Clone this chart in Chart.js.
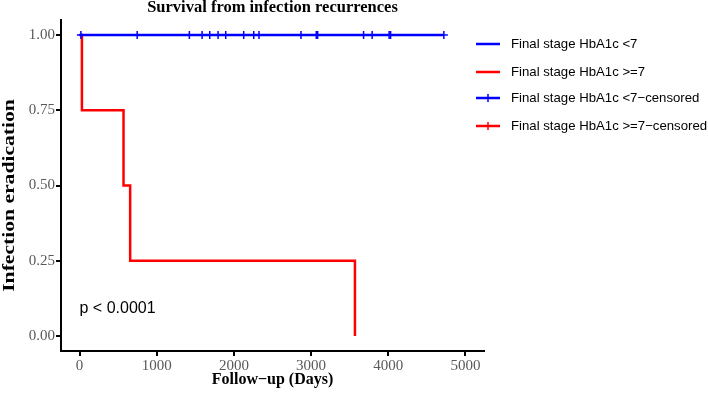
<!DOCTYPE html>
<html>
<head>
<meta charset="utf-8">
<script src="https://cdn.jsdelivr.net/npm/chart.js@4/dist/chart.umd.min.js"></script>
<style>
  body { margin: 0; background: #fff; }
  #survChart { display: block; }
</style>
</head>
<body>
<canvas id="survChart" width="708" height="398"></canvas>
<script>
// survival curves (days, probability)
var lowTimes = [0, 4720];
var lowSurv = [1, 1];
var highTimes = [0, 31, 570, 656, 3568];
var highSurv = [1, 0.75, 0.5, 0.25, 0];
// censored observations for HbA1c <7
var lowCensorTimes = [18, 747, 1423, 1588, 1687, 1795, 1894, 2127, 2257, 2325, 2869, 3067, 3085, 3680, 3791, 4011, 4030, 4720];
var highCensorTimes = [];

var xTicks = [0, 1000, 2000, 3000, 4000, 5000];
var yTicks = [0, 0.25, 0.5, 0.75, 1];

var legendLabels = ['Final stage HbA1c <7', 'Final stage HbA1c >=7', 'Final stage HbA1c <7\u2212censored', 'Final stage HbA1c >=7\u2212censored'];
var chartTitle = 'Survival from infection recurrences';
var xTitle = 'Follow\u2212up (Days)';
var yTitle = 'Infection eradication';
var pText = 'p < 0.0001';

var BLUE = '#0000ff';
var RED = '#ff0000';

function toPoints(xs, ys) {
  var pts = [];
  for (var i = 0; i < xs.length; i++) {
    pts.push({ x: xs[i], y: ys[i] });
  }
  return pts;
}

function censorPoints(xs, level) {
  var pts = [];
  for (var i = 0; i < xs.length; i++) {
    pts.push({ x: xs[i], y: level });
  }
  return pts;
}

// title, y title, p value and legend drawn on the canvas
var extrasPlugin = {
  id: 'extras',
  afterDraw: function (chart) {
    var ctx = chart.ctx;
    var area = chart.chartArea;
    var xs = chart.scales.x;
    var ys = chart.scales.y;
    ctx.save();

    ctx.fillStyle = '#000';
    ctx.font = 'bold 16.5px "Liberation Serif", serif';
    ctx.textAlign = 'center';
    ctx.textBaseline = 'middle';
    ctx.fillText(chartTitle, (area.left + area.right) / 2, 8);

    // y axis title, stretched along its length like the original
    ctx.save();
    ctx.translate(10, (area.top + area.bottom) / 2 + 10);
    ctx.rotate(-Math.PI / 2);
    ctx.scale(1.35, 1);
    ctx.font = 'bold 16px "Liberation Serif", serif';
    ctx.fillText(yTitle, 0, 0);
    ctx.restore();

    ctx.font = '16px "Liberation Sans", Arial, sans-serif';
    ctx.textAlign = 'left';
    ctx.fillText(pText, xs.getPixelForValue(0), ys.getPixelForValue(0.09));

    // legend
    var lx = area.right - 8;
    var rowsY = [44, 72, 98, 126];
    var colors = [BLUE, RED, BLUE, RED];
    ctx.font = '13.2px "Liberation Sans", Arial, sans-serif';
    for (var i = 0; i < legendLabels.length; i++) {
      var y = rowsY[i];
      ctx.strokeStyle = colors[i];
      ctx.lineWidth = 2.5;
      ctx.beginPath();
      ctx.moveTo(lx, y);
      ctx.lineTo(lx + 24, y);
      ctx.stroke();
      if (i >= 2) {
        ctx.lineWidth = 1.5;
        ctx.beginPath();
        ctx.moveTo(lx + 12, y - 4);
        ctx.lineTo(lx + 12, y + 4);
        ctx.stroke();
      }
      ctx.fillStyle = '#000';
      ctx.fillText(legendLabels[i], lx + 35, y);
    }
    ctx.restore();
  }
};

var config = {
  type: 'scatter',
  data: {
    datasets: [
      {
        label: legendLabels[2],
        data: censorPoints(lowCensorTimes, 1),
        pointStyle: 'cross',
        pointRadius: 4,
        borderColor: BLUE,
        backgroundColor: BLUE,
        borderWidth: 1.5,
        showLine: false
      },
      {
        label: legendLabels[3],
        data: censorPoints(highCensorTimes, 0),
        pointStyle: 'cross',
        pointRadius: 4,
        borderColor: RED,
        backgroundColor: RED,
        borderWidth: 1.5,
        showLine: false
      },
      {
        label: legendLabels[0],
        data: toPoints(lowTimes, lowSurv),
        showLine: true,
        stepped: 'before',
        borderColor: BLUE,
        backgroundColor: BLUE,
        borderWidth: 2.5,
        pointRadius: 0
      },
      {
        label: legendLabels[1],
        data: toPoints(highTimes, highSurv),
        showLine: true,
        stepped: 'before',
        borderColor: RED,
        backgroundColor: RED,
        borderWidth: 2.5,
        pointRadius: 0
      }
    ]
  },
  options: {
    responsive: false,
    animation: false,
    layout: {
      padding: { top: 20, right: 224, left: 0, bottom: 0 }
    },
    plugins: {
      legend: { display: false },
      tooltip: { enabled: false },
      title: { display: false }
    },
    scales: {
      x: {
        type: 'linear',
        position: 'bottom',
        min: -240,
        max: 5240,
        afterBuildTicks: function (scale) {
          scale.ticks = xTicks.map(function (v) { return { value: v }; });
        },
        afterFit: function (scale) { scale.height = 47; },
        grid: {
          display: true,
          drawOnChartArea: false,
          drawTicks: true,
          tickLength: 5,
          color: '#000',
          lineWidth: 2
        },
        border: { display: true, color: '#000', width: 2 },
        ticks: {
          padding: 1,
          color: '#5a5a5a',
          font: { family: '"Liberation Serif", serif', size: 15 },
          maxRotation: 0,
          callback: function (v) { return String(v); }
        },
        title: {
          display: true,
          text: xTitle,
          color: '#000',
          font: { family: '"Liberation Serif", serif', size: 16, weight: 'bold' },
          padding: { top: 0, bottom: 9 }
        }
      },
      y: {
        type: 'linear',
        position: 'left',
        min: -0.05,
        max: 1.05,
        afterBuildTicks: function (scale) {
          scale.ticks = yTicks.map(function (v) { return { value: v }; });
        },
        afterFit: function (scale) { scale.width = 61; },
        grid: {
          display: true,
          drawOnChartArea: false,
          drawTicks: true,
          tickLength: 5,
          color: '#000',
          lineWidth: 2
        },
        border: { display: true, color: '#000', width: 2 },
        ticks: {
          padding: 1,
          color: '#5a5a5a',
          font: { family: '"Liberation Serif", serif', size: 15 },
          callback: function (v) { return Number(v).toFixed(2); }
        },
        title: { display: false }
      }
    }
  },
  plugins: [extrasPlugin]
};

new Chart(document.getElementById('survChart'), config);
</script>
</body>
</html>
